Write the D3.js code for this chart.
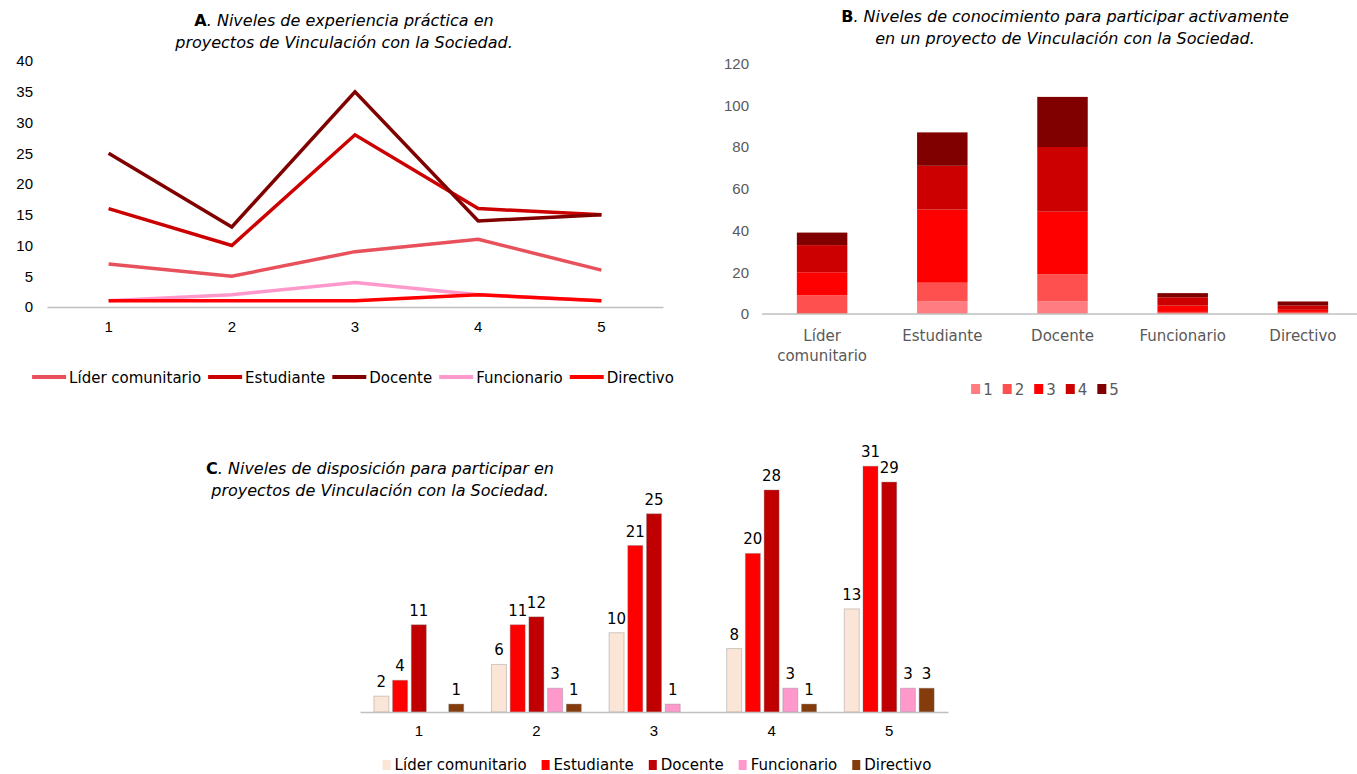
<!DOCTYPE html>
<html>
<head>
<meta charset="utf-8">
<script src="https://cdn.jsdelivr.net/npm/d3@7"></script>
<style>
  body { margin: 0; background: #fff; }
  svg { display: block; font-family: "DejaVu Sans", Verdana, sans-serif; }
</style>
</head>
<body>
<div id="chart"></div>
<script>
// --- data ---
const levels = ['1', '2', '3', '4', '5'];
const roles = ['Líder comunitario', 'Estudiante', 'Docente', 'Funcionario', 'Directivo'];

// A: practical experience by level (lines)
const expLider = [7, 5, 9, 11, 6];
const expEstudiante = [16, 10, 28, 16, 15];
const expDocente = [25, 13, 35, 14, 15];
const expFuncionario = [1, 2, 4, 2, 1];
const expDirectivo = [1, 1, 1, 2, 1];
const ticksA = [0, 5, 10, 15, 20, 25, 30, 35, 40];

// B: knowledge, stacked by level for each role
const rolesB = ['Líder comunitario', 'Estudiante', 'Docente', 'Funcionario', 'Directivo'];
const know1 = [0, 6, 6, 0, 0];
const know2 = [9, 9, 13, 1, 1];
const know3 = [11, 35, 30, 3, 1];
const know4 = [13, 21, 31, 4, 2];
const know5 = [6, 16, 24, 2, 2];
const ticksB = [0, 20, 40, 60, 80, 100, 120];

// C: disposition by level (grouped bars)
const dispLider = [2, 6, 10, 8, 13];
const dispEstudiante = [4, 11, 21, 20, 31];
const dispDocente = [11, 12, 25, 28, 29];
const dispFuncionario = [0, 3, 1, 3, 3];
const dispDirectivo = [1, 1, 0, 1, 3];

const colorsA = ['#e8505b', '#cc0000', '#800000', '#ff99cc', '#ff0000'];
const colorsB = ['#ff7c80', '#ff5050', '#ff0000', '#cc0000', '#800000'];
const colorsC = ['#fbe5d6', '#ff0000', '#c00000', '#ff99cc', '#843c0c'];

const svg = d3.select('#chart').append('svg')
  .attr('width', 1357)
  .attr('height', 774);

function title(cx, y, bold, lines) {
  const t = svg.append('text')
    .attr('text-anchor', 'middle')
    .attr('font-size', 16)
    .attr('fill', '#000');
  lines.forEach((l, i) => {
    const ts = t.append('tspan').attr('x', cx).attr('y', y + i * 22);
    if (i === 0) {
      ts.append('tspan').attr('font-weight', 'bold').text(bold);
      ts.append('tspan').attr('font-style', 'italic').text(l);
    } else {
      ts.attr('font-style', 'italic').text(l);
    }
  });
}

// ---------- Chart A ----------
(function () {
  const series = [expLider, expEstudiante, expDocente, expFuncionario, expDirectivo];
  const x = d3.scaleBand().domain(levels).range([47, 663]);
  const y = d3.scaleLinear().domain([0, 40]).range([307, 61]);

  title(344, 26, 'A', ['. Niveles de experiencia práctica en', 'proyectos de Vinculación con la Sociedad.']);

  const yAxis = svg.append('g')
    .attr('transform', 'translate(33,0)')
    .call(d3.axisLeft(y).tickValues(ticksA).tickSize(0).tickPadding(0));
  yAxis.select('.domain').remove();
  yAxis.selectAll('text').attr('font-size', 15).attr('fill', '#000').attr('font-family', null);

  const xAxis = svg.append('g')
    .attr('transform', 'translate(0,307)')
    .call(d3.axisBottom(x).tickSize(0).tickPadding(14));
  xAxis.select('.domain').attr('stroke', '#bfbfbf').attr('stroke-width', 1.5);
  xAxis.selectAll('text').attr('font-size', 15).attr('fill', '#000').attr('font-family', null);

  const line = d3.line()
    .x((d, i) => x(levels[i]) + x.bandwidth() / 2)
    .y(d => y(d));

  svg.append('g').selectAll('path')
    .data(series)
    .enter().append('path')
    .attr('d', line)
    .attr('fill', 'none')
    .attr('stroke', (d, i) => colorsA[i])
    .attr('stroke-width', 3.5);

  // legend
  const lg = svg.append('g');
  let cx = 0;
  roles.forEach((r, i) => {
    const item = lg.append('g').attr('transform', `translate(${cx},0)`);
    item.append('line')
      .attr('x1', 0).attr('x2', 34).attr('y1', 0).attr('y2', 0)
      .attr('stroke', colorsA[i]).attr('stroke-width', 4);
    const t = item.append('text')
      .attr('x', 37).attr('y', 5.5)
      .attr('font-size', 15).attr('fill', '#000')
      .text(r);
    cx += 37 + t.node().getComputedTextLength() + 7;
  });
  const w = cx - 7;
  lg.attr('transform', `translate(${353 - w / 2},377)`);
})();

// ---------- Chart B ----------
(function () {
  const stacks = [know1, know2, know3, know4, know5];
  const x = d3.scaleBand().domain(rolesB).range([762, 1363]).paddingInner(0.58).paddingOuter(0.29);
  const y = d3.scaleLinear().domain([0, 120]).range([314, 63.5]);

  title(1065, 22, 'B', ['. Niveles de conocimiento para participar activamente', 'en un proyecto de Vinculación con la Sociedad.']);

  const yAxis = svg.append('g')
    .attr('transform', 'translate(749,0)')
    .call(d3.axisLeft(y).tickValues(ticksB).tickSize(0).tickPadding(0));
  yAxis.select('.domain').remove();
  yAxis.selectAll('text').attr('font-size', 15).attr('fill', '#595959').attr('font-family', null);

  const table = rolesB.map((r, j) => {
    const o = { role: r };
    levels.forEach((l, k) => { o[l] = stacks[k][j]; });
    return o;
  });
  const stacked = d3.stack().keys(levels)(table);

  svg.append('g').selectAll('g')
    .data(stacked)
    .enter().append('g')
    .attr('fill', (d, i) => colorsB[i])
    .selectAll('rect')
    .data(d => d)
    .enter().append('rect')
    .attr('x', d => x(d.data.role))
    .attr('width', x.bandwidth())
    .attr('y', d => y(d[1]))
    .attr('height', d => y(d[0]) - y(d[1]));

  svg.append('line')
    .attr('x1', 762).attr('x2', 1357).attr('y1', 314).attr('y2', 314)
    .attr('stroke', '#bfbfbf').attr('stroke-width', 1.5);

  // category labels
  const labels = { 'Líder comunitario': ['Líder', 'comunitario'] };
  rolesB.forEach(r => {
    const parts = labels[r] || [r];
    const t = svg.append('text')
      .attr('text-anchor', 'middle')
      .attr('font-size', 15).attr('fill', '#595959');
    parts.forEach((p, i) => {
      t.append('tspan').attr('x', x(r) + x.bandwidth() / 2).attr('y', 341 + i * 20).text(p);
    });
  });

  // legend
  const lg = svg.append('g');
  let cx = 0;
  levels.forEach((l, i) => {
    const item = lg.append('g').attr('transform', `translate(${cx},0)`);
    item.append('rect').attr('x', 0).attr('y', -5).attr('width', 9).attr('height', 10).attr('fill', colorsB[i]);
    const t = item.append('text').attr('x', 12).attr('y', 5.5)
      .attr('font-size', 15).attr('fill', '#595959').text(l);
    cx += 12 + t.node().getComputedTextLength() + 10;
  });
  const w = cx - 10;
  lg.attr('transform', `translate(${1045 - w / 2},389)`);
})();

// ---------- Chart C ----------
(function () {
  const series = [dispLider, dispEstudiante, dispDocente, dispFuncionario, dispDirectivo];
  const x0 = d3.scaleBand().domain(levels).range([360, 948]);
  const x1 = d3.scaleBand().domain(roles).range([12, x0.bandwidth() - 12]).paddingInner(0.2).paddingOuter(0.1);
  const y = d3.scaleLinear().domain([0, 35]).range([712, 434.5]);

  title(380, 474, 'C', ['. Niveles de disposición para participar en', 'proyectos de Vinculación con la Sociedad.']);

  const groups = svg.append('g').selectAll('g')
    .data(levels)
    .enter().append('g')
    .attr('transform', d => `translate(${x0(d)},0)`);

  const cells = groups.selectAll('g')
    .data((l, k) => roles.map((r, i) => ({ role: r, i: i, v: series[i][k] })).filter(d => d.v > 0))
    .enter().append('g');

  cells.append('rect')
    .attr('x', d => x1(d.role))
    .attr('width', x1.bandwidth())
    .attr('y', d => y(d.v))
    .attr('height', d => y(0) - y(d.v))
    .attr('fill', d => colorsC[d.i])
    .attr('stroke', 'rgba(120,120,120,0.35)')
    .attr('stroke-width', 1);

  cells.append('text')
    .attr('x', d => x1(d.role) + x1.bandwidth() / 2)
    .attr('y', d => y(d.v) - 9)
    .attr('text-anchor', 'middle')
    .attr('font-size', 15).attr('fill', '#000')
    .text(d => d.v);

  const xAxis = svg.append('g')
    .attr('transform', 'translate(0,712)')
    .call(d3.axisBottom(x0).tickSize(0).tickPadding(13));
  xAxis.select('.domain').attr('stroke', '#bfbfbf').attr('stroke-width', 1.5);
  xAxis.selectAll('text').attr('font-size', 15).attr('fill', '#000').attr('font-family', null);

  // legend
  const lg = svg.append('g');
  let cx = 0;
  roles.forEach((r, i) => {
    const item = lg.append('g').attr('transform', `translate(${cx},0)`);
    item.append('rect').attr('x', 0).attr('y', -5).attr('width', 8).attr('height', 10).attr('fill', colorsC[i]);
    const t = item.append('text').attr('x', 12).attr('y', 5)
      .attr('font-size', 15).attr('fill', '#000').text(r);
    cx += 12 + t.node().getComputedTextLength() + 15;
  });
  const w = cx - 15;
  lg.attr('transform', `translate(${657 - w / 2},765)`);
})();
</script>
</body>
</html>
